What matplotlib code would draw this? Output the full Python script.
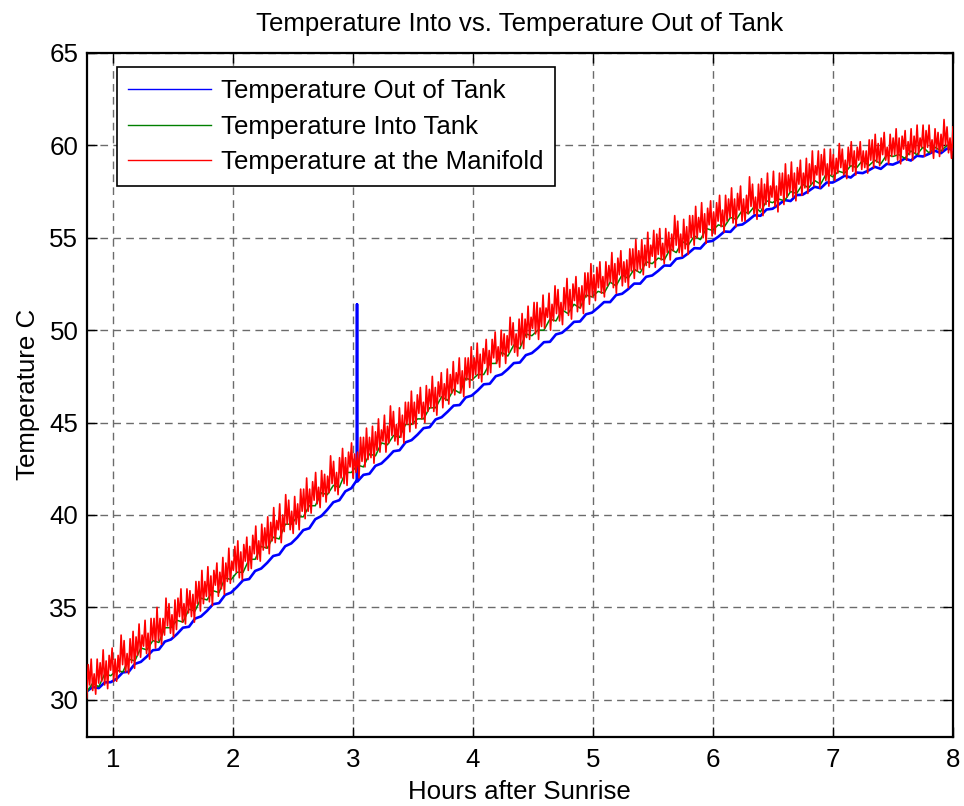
import numpy as np
import matplotlib
matplotlib.use("Agg")
import matplotlib.pyplot as plt

plt.rcParams['font.family'] = ['Liberation Sans', 'DejaVu Sans']

# ---------------- data ----------------
title = "Temperature Into vs. Temperature Out of Tank"
x_label = "Hours after Sunrise"
y_label = "Temperature C"
series_names = ["Temperature Out of Tank", "Temperature Into Tank", "Temperature at the Manifold"]

hour_start = 0.78
hour_end = 8.0
x_ticks = [1, 2, 3, 4, 5, 6, 7, 8]
y_ticks = [30, 35, 40, 45, 50, 55, 60, 65]
y_limits = [28, 65]

# Temperature out of tank (blue), sampled every ~0.05 h
temp_out = [
    30.45, 30.69, 30.63, 30.94, 30.95,
    31.14, 31.48, 31.52, 31.94, 32.05,
    32.34, 32.68, 32.72, 33.15, 33.26,
    33.55, 33.90, 33.95, 34.39, 34.51,
    34.81, 35.17, 35.23, 35.67, 35.80,
    36.11, 36.47, 36.53, 36.97, 37.10,
    37.41, 37.78, 37.86, 38.31, 38.46,
    38.78, 39.18, 39.28, 39.77, 39.94,
    40.29, 40.69, 40.80, 41.28, 41.45,
    41.81, 42.17, 42.23, 42.66, 42.79,
    43.10, 43.45, 43.50, 43.93, 44.05,
    44.35, 44.70, 44.75, 45.17, 45.29,
    45.59, 45.92, 45.95, 46.36, 46.46,
    46.74, 47.07, 47.10, 47.51, 47.61,
    47.89, 48.22, 48.25, 48.65, 48.76,
    49.03, 49.35, 49.37, 49.77, 49.86,
    50.13, 50.45, 50.47, 50.86, 50.95,
    51.22, 51.52, 51.52, 51.90, 51.97,
    52.22, 52.52, 52.52, 52.89, 52.96,
    53.21, 53.50, 53.49, 53.86, 53.92,
    54.16, 54.44, 54.42, 54.78, 54.83,
    55.06, 55.34, 55.32, 55.67, 55.72,
    55.95, 56.22, 56.19, 56.53, 56.57,
    56.79, 57.04, 56.99, 57.31, 57.33,
    57.53, 57.76, 57.68, 57.99, 57.99,
    58.16, 58.36, 58.26, 58.53, 58.50,
    58.65, 58.84, 58.73, 59.00, 58.96,
    59.10, 59.29, 59.18, 59.44, 59.40,
    59.54, 59.71, 59.58, 59.83, 59.78,
]
# glitch in the out-of-tank sensor near 3.03 h
spike_hours = [3.033, 3.033, 3.033]
spike_temps = [41.9, 51.4, 41.9]

# Temperature into tank (green), sampled every ~0.05 h
temp_into = [
    30.4, 30.9, 30.7, 31.4, 31.3,
    31.6, 31.5, 32.2, 32.1, 32.8,
    32.7, 33.2, 33.1, 33.9, 33.9,
    34.3, 34.2, 34.9, 34.8, 35.5,
    35.4, 35.9, 35.8, 36.6, 36.5,
    36.9, 36.9, 37.6, 37.6, 38.3,
    38.2, 38.8, 38.7, 39.5, 39.5,
    39.9, 39.9, 40.5, 40.5, 41.2,
    41.1, 41.6, 41.5, 42.3, 42.3,
    42.7, 42.6, 43.3, 43.2, 43.9,
    43.8, 44.3, 44.2, 44.9, 44.9,
    45.2, 45.2, 45.8, 45.8, 46.4,
    46.2, 46.8, 46.6, 47.4, 47.3,
    47.6, 47.6, 48.2, 48.2, 48.8,
    48.6, 49.2, 49.0, 49.8, 49.7,
    50.0, 50.0, 50.6, 50.5, 51.1,
    50.9, 51.4, 51.2, 51.9, 51.8,
    52.1, 52.0, 52.6, 52.4, 53.0,
    52.8, 53.3, 53.1, 53.7, 53.6,
    53.9, 53.8, 54.4, 54.2, 54.8,
    54.6, 55.1, 54.9, 55.5, 55.4,
    55.7, 55.6, 56.1, 56.0, 56.5,
    56.3, 56.7, 56.4, 57.0, 56.9,
    57.1, 57.0, 57.5, 57.4, 57.9,
    57.7, 58.1, 57.9, 58.5, 58.3,
    58.6, 58.5, 58.9, 58.8, 59.2,
    58.9, 59.2, 59.0, 59.5, 59.4,
    59.5, 59.3, 59.7, 59.5, 59.9,
    59.6, 59.9, 59.7, 60.0, 59.9,
]

# Temperature at the manifold (red), sampled every ~0.0125 h
temp_manifold = [
    30.1, 31.9, 30.8, 32.2, 30.5, 31.4, 30.3, 32.2, 30.9, 32.0,
    31.0, 32.7, 30.8, 32.1, 30.6, 32.4, 31.6, 32.8, 31.0, 32.2,
    31.0, 32.4, 31.5, 33.5, 31.9, 33.2, 31.5, 32.5, 31.4, 33.3,
    32.0, 33.7, 31.7, 33.4, 32.4, 34.1, 32.3, 33.5, 32.9, 34.3,
    32.5, 33.6, 32.2, 34.4, 33.2, 34.4, 32.8, 35.0, 33.2, 34.4,
    33.0, 34.4, 33.5, 35.5, 34.0, 35.2, 33.6, 34.6, 33.4, 35.4,
    33.8, 35.5, 34.5, 36.0, 34.2, 35.2, 34.1, 36.0, 34.7, 35.9,
    34.5, 35.7, 34.2, 36.4, 35.2, 36.4, 34.8, 37.0, 35.2, 36.4,
    35.6, 37.2, 35.3, 36.7, 35.1, 37.0, 36.2, 37.4, 35.6, 36.9,
    36.0, 37.7, 35.7, 37.4, 36.4, 38.2, 36.3, 37.5, 37.0, 38.3,
    36.9, 38.6, 36.6, 38.0, 36.5, 38.4, 37.5, 38.8, 37.0, 38.3,
    37.1, 38.9, 37.9, 39.4, 37.6, 38.6, 37.5, 39.5, 38.1, 39.3,
    38.2, 39.9, 37.9, 39.6, 38.6, 40.4, 38.5, 39.7, 39.2, 40.6,
    38.5, 40.0, 39.1, 41.1, 39.5, 40.8, 39.2, 40.2, 39.0, 41.0,
    39.5, 40.6, 39.2, 41.4, 40.2, 41.4, 39.8, 42.0, 40.2, 41.4,
    40.1, 41.8, 40.8, 42.3, 40.6, 41.5, 40.4, 42.4, 41.0, 42.2,
    40.7, 42.1, 41.2, 43.2, 41.7, 42.9, 41.3, 42.3, 41.1, 43.1,
    42.0, 43.6, 41.7, 43.1, 41.6, 43.4, 42.6, 43.9, 42.0, 43.3,
    42.3, 43.4, 42.0, 44.2, 42.9, 44.2, 42.6, 44.7, 43.0, 44.2,
    43.1, 44.8, 42.8, 44.5, 43.5, 45.2, 43.4, 44.6, 44.0, 45.4,
    43.4, 44.8, 43.9, 45.9, 44.3, 45.6, 44.0, 44.9, 43.8, 45.8,
    44.2, 45.4, 43.9, 46.1, 44.9, 46.1, 44.5, 46.7, 44.9, 46.1,
    44.7, 46.5, 45.5, 46.9, 45.2, 46.1, 45.0, 47.0, 45.6, 46.8,
    45.8, 47.5, 45.6, 46.9, 45.4, 47.2, 46.4, 47.7, 45.8, 47.1,
    46.2, 47.9, 46.0, 47.6, 46.6, 48.3, 46.5, 47.7, 47.1, 48.5,
    46.6, 47.8, 46.4, 48.5, 47.3, 48.5, 46.9, 49.1, 47.3, 48.5,
    47.6, 49.3, 47.4, 48.7, 47.2, 49.0, 48.2, 49.5, 47.6, 48.9,
    47.7, 49.5, 48.5, 49.9, 48.2, 49.1, 48.0, 50.0, 48.6, 49.8,
    48.2, 49.7, 48.8, 50.7, 49.2, 50.4, 48.8, 49.8, 48.6, 50.6,
    49.2, 50.9, 49.0, 50.6, 49.6, 51.3, 49.5, 50.7, 50.1, 51.5,
    49.8, 51.5, 49.5, 51.2, 50.2, 51.9, 50.1, 51.2, 50.7, 52.0,
    50.0, 51.4, 50.5, 52.4, 50.9, 52.2, 50.5, 51.5, 50.3, 52.3,
    51.1, 52.8, 50.8, 52.2, 50.6, 52.5, 51.6, 52.9, 51.0, 52.3,
    51.2, 52.4, 50.9, 53.1, 51.8, 53.1, 51.4, 53.6, 51.8, 53.0,
    51.6, 53.4, 52.3, 53.7, 52.0, 52.9, 51.8, 53.7, 52.4, 53.5,
    52.6, 54.2, 52.3, 53.6, 52.0, 53.9, 53.0, 54.3, 52.4, 53.7,
    52.6, 53.8, 52.3, 54.4, 53.2, 54.4, 52.8, 54.9, 53.2, 54.3,
    53.3, 54.9, 53.0, 54.6, 53.5, 55.3, 53.4, 54.6, 54.0, 55.4,
    53.4, 55.2, 54.1, 55.5, 53.8, 54.7, 53.6, 55.5, 54.2, 55.3,
    53.8, 55.2, 54.3, 56.2, 54.6, 55.9, 54.2, 55.2, 54.0, 56.0,
    54.4, 55.6, 54.1, 56.2, 55.0, 56.2, 54.6, 56.7, 55.0, 56.1,
    55.3, 56.9, 55.0, 56.3, 54.7, 56.6, 55.7, 57.0, 55.1, 56.4,
    55.2, 56.9, 55.9, 57.3, 55.6, 56.5, 55.3, 57.3, 55.9, 57.1,
    56.1, 57.7, 55.8, 57.1, 55.6, 57.4, 56.5, 57.8, 55.9, 57.1,
    55.9, 57.3, 56.3, 58.3, 56.7, 57.9, 56.3, 57.2, 56.0, 57.9,
    56.6, 58.2, 56.2, 57.9, 56.8, 58.5, 56.7, 57.8, 57.2, 58.6,
    56.7, 57.8, 56.4, 58.5, 57.3, 58.5, 56.8, 59.0, 57.2, 58.4,
    57.5, 59.1, 57.2, 58.5, 57.0, 58.8, 57.9, 59.2, 57.3, 58.5,
    57.7, 59.3, 57.4, 59.0, 57.9, 59.7, 57.8, 58.9, 58.4, 59.7,
    57.7, 59.5, 58.4, 59.8, 58.1, 59.0, 57.8, 59.8, 58.4, 59.5,
    58.1, 59.3, 58.5, 60.1, 58.8, 59.8, 58.4, 59.2, 58.2, 59.9,
    58.9, 60.2, 58.6, 59.7, 58.4, 59.9, 59.2, 60.2, 58.7, 59.7,
    58.8, 59.7, 58.5, 60.3, 59.2, 60.3, 58.8, 60.6, 59.1, 60.1,
    58.9, 60.4, 59.5, 60.7, 59.2, 59.9, 59.0, 60.6, 59.4, 60.4,
    59.5, 60.9, 59.2, 60.4, 59.0, 60.5, 59.8, 60.8, 59.2, 60.2,
    59.5, 60.9, 59.2, 60.5, 59.6, 61.1, 59.5, 60.4, 59.9, 61.1,
    59.4, 60.8, 59.9, 61.1, 59.6, 60.3, 59.3, 60.9, 59.8, 60.7,
    59.4, 60.6, 59.7, 61.4, 60.0, 61.0, 59.6, 60.4, 59.3, 61.0,
]

# ---------------- sample times ----------------
hours_out = np.linspace(hour_start, hour_end, len(temp_out))
hours_into = np.linspace(hour_start, hour_end, len(temp_into))
hours_manifold = np.linspace(hour_start, hour_end, len(temp_manifold))

# place the sensor glitch into the out-of-tank series at its time
idx = int(np.searchsorted(hours_out, spike_hours[0]))
out_x = np.concatenate([hours_out[:idx], spike_hours, hours_out[idx:]])
out_y = np.concatenate([np.asarray(temp_out)[:idx], spike_temps, np.asarray(temp_out)[idx:]])

# ---------------- figure ----------------
W, H = 964, 806
fig = plt.figure(figsize=(W / 100, H / 100), dpi=100)
ax = fig.add_axes([86.7 / W, (H - 736.7) / H, 866.3 / W, 683.7 / H])

FS = 18.6
ax.plot(out_x, out_y, color=(0, 0, 1), lw=1.9, label=series_names[0], zorder=3)
ax.plot(hours_into, temp_into, color=(0, 0.5, 0), lw=1.1, label=series_names[1], zorder=4)
ax.plot(hours_manifold, temp_manifold, color=(1, 0, 0), lw=1.2, label=series_names[2], zorder=5)

ax.set_xlim(hour_start, hour_end)
ax.set_ylim(*y_limits)
ax.set_xticks(x_ticks)
ax.set_yticks(y_ticks)
ax.tick_params(direction='in', length=7, width=1, top=True, right=True,
               labelsize=FS, color='black')
ax.tick_params(axis='x', pad=8)
ax.tick_params(axis='y', pad=6)

ax.grid(True, color='0.42', linestyle=(0, (5.5, 3.8)), linewidth=1.0, zorder=0)
ax.set_axisbelow(True)
for s in ax.spines.values():
    s.set_linewidth(1.6)
    s.set_color('black')

ax.set_title(title, fontsize=FS, pad=16)
ax.set_xlabel(x_label, fontsize=FS, labelpad=6)
ax.set_ylabel(y_label, fontsize=FS, labelpad=7)

leg = ax.legend(loc='upper left', bbox_to_anchor=(0.0346, 0.979), borderaxespad=0,
                fontsize=FS, frameon=True, fancybox=False, framealpha=1,
                edgecolor='black', handlelength=3.2, handletextpad=0.4,
                borderpad=0.45, labelspacing=0.45)
leg.get_frame().set_linewidth(1.2)
for line in leg.get_lines():
    line.set_linewidth(1.0)

fig.savefig("out.png", dpi=100)
